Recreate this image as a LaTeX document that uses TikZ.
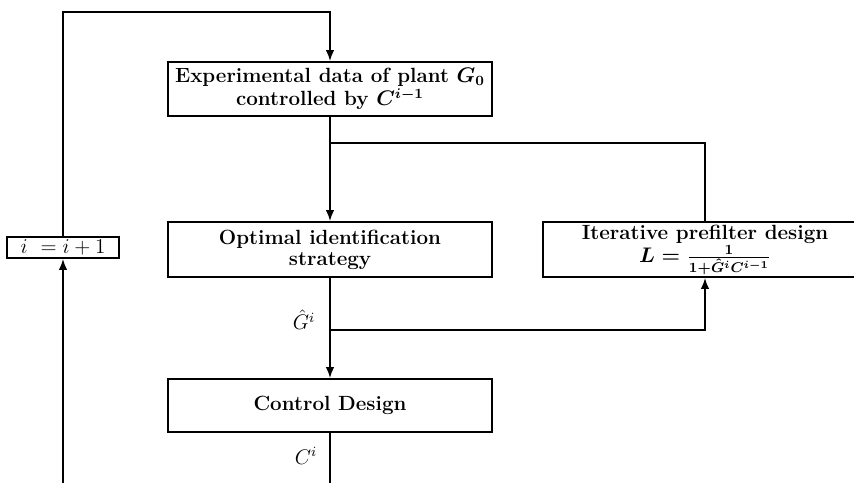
\documentclass[tikz,border=0pt]{standalone}
\usepackage{amsmath,amssymb}
\usepackage{tikz}
\usetikzlibrary{arrows.meta,positioning,calc}

\begin{document}
\begin{tikzpicture}[
  box/.style={draw, line width=1pt, minimum width=6.48cm, minimum height=1.1cm, align=center, inner sep=1pt, font=\fontsize{11.7}{11.9}\selectfont\bfseries\boldmath},
  incbox/.style={draw, line width=1pt, minimum width=2.24cm, minimum height=0.42cm, inner sep=0.5pt, font=\fontsize{12.5}{13}\selectfont},
  lab/.style={font=\fontsize{12}{13}\selectfont},
  wire/.style={line width=1pt},
  flow/.style={wire, -{Latex[length=2.2mm,width=1.7mm]}}
]
\clip (0,0) rectangle (17.08,-9.66);
% blocks
\node[box, minimum height=1.08cm] (exp) at (6.6,-1.78) {Experimental data of plant $G_0$\\ controlled by $C^{i-1}$};
\node[box] (ident) at (6.6,-4.99) {Optimal identification\\ strategy};
\node[box] (prefilt) at (14.1,-4.99) {Iterative prefilter design\\ $L = \frac{1}{1+\hat{G}^{i}C^{i-1}}$};
\node[box, minimum height=1.06cm] (ctrl) at (6.6,-8.11) {Control Design};
\node[incbox] (incr) at (1.26,-4.95) {$i\ = i+1$};
% helper points
\coordinate (top) at (1.26,-0.24);
\coordinate (fb) at (6.6,-2.86);
\coordinate (gsplit) at (6.6,-6.6);
\coordinate (bottom) at (6.6,-9.66);
\coordinate (lbottom) at (1.26,-9.66);
% connectors
\draw[flow] (incr.north) -- (top) -| (exp.north);
\draw[flow] (exp.south) -- (ident.north);
\draw[wire] (prefilt.north) |- (fb);
\draw[flow] (ident.south) -- (ctrl.north);
\draw[flow] (gsplit) -| (prefilt.south);
\draw[wire] (ctrl.south) -- (bottom);
\draw[flow] (lbottom) -- (incr.south);
% labels
\node[lab, left=5pt of gsplit, yshift=0.2cm] (glab) {$\hat{G}^{i}$};
\node[lab] (clab) at (6.12,-9.12) {$C^{i}$};
\end{tikzpicture}
\end{document}
